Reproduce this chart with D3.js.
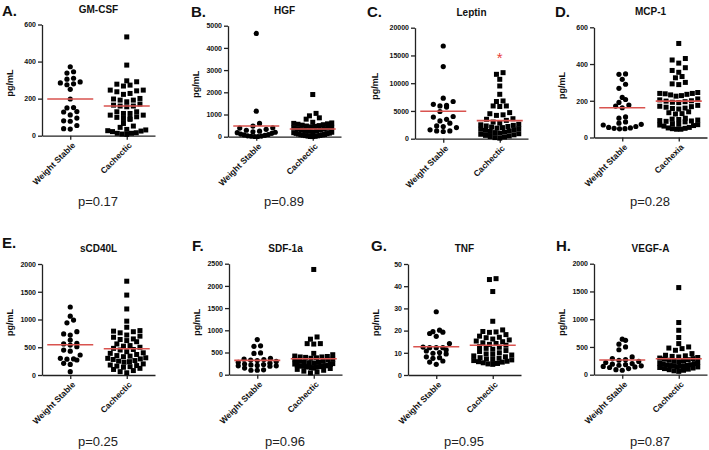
<!DOCTYPE html>
<html>
<head>
<meta charset="utf-8">
<script src="https://cdn.jsdelivr.net/npm/d3@7"></script>
<style>
  body { margin: 0; background: #fff; }
  svg { font-family: "Liberation Sans", Arial, Helvetica, sans-serif; }
</style>
</head>
<body>
<svg width="709" height="450"></svg>
<script>
// Panel text
var letters = ['A.', 'B.', 'C.', 'D.', 'E.', 'F.', 'G.', 'H.'];
var titles = ['GM-CSF', 'HGF', 'Leptin', 'MCP-1', 'sCD40L', 'SDF-1a', 'TNF', 'VEGF-A'];
var groupNames = [
  ['Weight Stable', 'Cachectic'], ['Weight Stable', 'Cachectic'],
  ['Weight Stable', 'Cachectic'], ['Weight Stable', 'Cachexia'],
  ['Weight Stable', 'Cachectic'], ['Weight Stable', 'Cachectic'],
  ['Weight Stable', 'Cachectic'], ['Weight Stable', 'Cachectic']
];
var pValues = ['p=0.17', 'p=0.89', '', 'p=0.28', 'p=0.25', 'p=0.96', 'p=0.95', 'p=0.87'];

// Y axis ticks (last tick = axis max)
var yTicks = [
  [0, 200, 400, 600],
  [0, 1000, 2000, 3000, 4000, 5000],
  [0, 5000, 10000, 15000, 20000],
  [0, 200, 400, 600],
  [0, 500, 1000, 1500, 2000],
  [0, 500, 1000, 1500, 2000, 2500],
  [0, 10, 20, 30, 40, 50],
  [0, 500, 1000, 1500, 2000]
];

// Values (pg/mL)
var gmcsfStable = [372, 345, 338, 310, 305, 290, 285, 280, 275, 250, 198, 152, 150, 130, 128, 112, 95, 80, 78, 55, 38, 36];
var gmcsfCachectic = [533, 381, 296, 291, 278, 273, 268, 246, 246, 242, 237, 228, 223, 201, 198, 192, 192, 183, 171, 165, 160, 160, 156,
  129, 129, 120, 120, 111, 111, 102, 99, 93, 93, 88, 66, 52, 45, 34, 31, 27, 25, 22, 16, 13, 13, 9, 7];

var hgfStable = [4650, 1150, 600, 480, 400, 390, 330, 290, 250, 220, 200, 180, 150, 120, 100, 80, 60, 40, 30, 20, 10, 10];
var hgfCachectic = [1900, 1050, 940, 850, 790, 650, 620, 600, 580, 560, 540, 520, 500, 480, 460, 440, 420, 400, 380, 360, 340, 320,
  300, 280, 260, 240, 220, 200, 180, 160, 150, 140, 120, 100, 90, 80, 70, 60, 50, 40, 30, 20, 10, 5];

var leptinStable = [16700, 13000, 7300, 6700, 6200, 6000, 5900, 5700, 4900, 4000, 3900, 3500, 3200, 2800, 2300, 2200, 2000, 1600, 1400, 1400, 1300];
var leptinCachectic = [11900, 11600, 10700, 9500, 8000, 6800, 6700, 5900, 5900, 5800, 4700, 4500, 4300, 4200, 3600, 3500, 3300, 3000,
  2800, 2600, 2500, 2400, 2300, 2200, 2100, 2000, 1900, 1800, 1700, 1600, 1500, 1400, 1300, 1200, 1100, 1000, 900, 800, 700, 600,
  500, 400, 300, 200, 100];

var mcp1Stable = [346, 344, 317, 290, 268, 218, 207, 191, 177, 171, 162, 112, 105, 85, 78, 72, 68, 60, 55, 52, 50, 48, 47];
var mcp1Cachexia = [512, 430, 422, 405, 380, 365, 355, 332, 325, 300, 292, 288, 245, 240, 240, 238, 235, 232, 228, 225, 210, 205, 200,
  198, 195, 192, 190, 175, 170, 168, 165, 160, 158, 155, 140, 135, 130, 128, 105, 100, 98, 95, 92, 90, 88, 85, 75, 72, 70, 68, 65, 62,
  55, 52, 50, 48, 45, 45];

var scd40lStable = [1225, 1060, 990, 940, 780, 740, 720, 630, 570, 560, 540, 510, 450, 430, 360, 300, 290, 285, 270, 210, 190, 60];
var scd40lCachectic = [1690, 1440, 1190, 970, 860, 800, 790, 780, 760, 720, 700, 680, 650, 640, 620, 600, 560, 530, 520, 500, 480, 460,
  450, 420, 400, 390, 370, 350, 340, 330, 310, 300, 290, 280, 260, 250, 240, 230, 200, 180, 170, 160, 150, 140, 120, 100, 80, 60, 40];

var sdf1Stable = [790, 650, 640, 490, 480, 370, 350, 340, 330, 320, 300, 280, 260, 240, 230, 220, 210, 200, 200, 190, 150, 110, 100, 100];
var sdf1Cachectic = [2370, 850, 800, 700, 700, 690, 480, 450, 420, 410, 400, 400, 390, 380, 370, 350, 340, 330, 310, 300, 290, 280, 270,
  260, 250, 240, 230, 220, 210, 200, 200, 195, 190, 190, 185, 180, 180, 175, 170, 160, 150, 140, 120, 100, 80, 60, 40];

var tnfStable = [28.5, 20.2, 19.5, 19.3, 18.7, 17.4, 14.2, 12.6, 12.3, 12.3, 12.3, 11.3, 10.8, 10.1, 9.8, 9.5, 8.2, 7.8, 7.5, 6.3, 5.8, 4.8];
var tnfCachectic = [43.4, 43.0, 37.6, 24.2, 20.3, 19.6, 19.4, 19.2, 18.2, 17.5, 17.0, 16.8, 16.2, 15.8, 15.3, 15.0, 14.5, 14.2, 13.8,
  13.4, 12.8, 12.5, 12.0, 11.6, 11.0, 10.6, 10.0, 9.5, 9.3, 9.0, 8.6, 8.2, 7.8, 7.5, 7.2, 7.0, 6.8, 6.5, 6.2, 6.0, 5.8, 5.5, 5.2, 5.0, 4.8];

var vegfStable = [640, 620, 550, 500, 450, 320, 290, 270, 260, 240, 220, 200, 190, 180, 170, 160, 150, 140, 130, 110, 90, 80];
var vegfCachectic = [1570, 940, 800, 670, 560, 500, 480, 470, 440, 380, 350, 340, 330, 320, 310, 300, 290, 280, 270, 260, 250, 240, 230,
  220, 210, 200, 190, 180, 175, 170, 165, 160, 155, 150, 145, 140, 130, 120, 110, 100, 90, 80, 70, 60];

// Red centre lines [stable, cachectic]
var centerLines = [[198, 160], [480, 345], [4950, 3250], [162, 198], [546, 474], [322, 360], [12.7, 13.4], [265, 288]];

// Significance star on Leptin cachectic group
var starValue = 14700;

var stableSets = [gmcsfStable, hgfStable, leptinStable, mcp1Stable, scd40lStable, sdf1Stable, tnfStable, vegfStable];
var cachecticSets = [gmcsfCachectic, hgfCachectic, leptinCachectic, mcp1Cachexia, scd40lCachectic, sdf1Cachectic, tnfCachectic, vegfCachectic];

// Layout of each panel (pixel positions of axes and text)
var layout = [
  { x0: 42,  yt: 24.5,  yb: 135.7, lx: 2,   ly: 16,  py: 206 },
  { x0: 228, yt: 25.7,  yb: 136.7, lx: 191, ly: 17,  py: 206 },
  { x0: 415, yt: 27.7,  yb: 138.7, lx: 367, ly: 17,  py: 206 },
  { x0: 594, yt: 27.3,  yb: 137.5, lx: 555, ly: 17,  py: 206 },
  { x0: 42,  yt: 264,   yb: 375,   lx: 2,   ly: 248, py: 446 },
  { x0: 229, yt: 263.7, yb: 374.7, lx: 192, ly: 251, py: 446 },
  { x0: 408, yt: 264,   yb: 375,   lx: 371, ly: 251, py: 446 },
  { x0: 594, yt: 263.7, yb: 374.7, lx: 556, ly: 251, py: 446 }
];
var axisWidth = 113;

var svg = d3.select('svg');

// Prism-like row layout: points close in y share a row and spread sideways,
// lowest values sit in the middle of the row
function rowOffsets(values, y) {
  var pts = values.map(function (v) { return { v: v, py: y(v) }; })
    .sort(function (a, b) { return a.v - b.v; });
  var rows = [], cur = null;
  pts.forEach(function (p) {
    if (cur && Math.abs(p.py - cur.start) < 4.6) {
      cur.pts.push(p);
    } else {
      cur = { start: p.py, pts: [p] };
      rows.push(cur);
    }
  });
  rows.forEach(function (r) {
    var n = r.pts.length;
    var s = n > 1 ? Math.min(6.6, 38 / (n - 1)) : 0;
    var slots = d3.range(n).map(function (i) { return (i - (n - 1) / 2) * s; })
      .sort(function (a, b) { return Math.abs(a) - Math.abs(b) || a - b; });
    r.pts.forEach(function (p, i) { p.dx = slots[i]; });
  });
  return pts;
}

function drawPanel(i) {
  var L = layout[i];
  var g = svg.append('g');
  var yMax = yTicks[i][yTicks[i].length - 1];

  var y = d3.scaleLinear().domain([0, yMax]).range([L.yb, L.yt]);
  var x = d3.scalePoint().domain(groupNames[i]).range([L.x0, L.x0 + axisWidth]).padding(0.5);

  // y axis
  var ya = g.append('g')
    .attr('transform', 'translate(' + L.x0 + ',0)')
    .call(d3.axisLeft(y).tickValues(yTicks[i]).tickSize(4).tickSizeOuter(0).tickPadding(2).tickFormat(d3.format('d')));
  ya.selectAll('text').attr('font-size', 7).attr('font-weight', 'bold').attr('fill', '#111');

  // x axis
  var xa = g.append('g')
    .attr('transform', 'translate(0,' + L.yb + ')')
    .call(d3.axisBottom(x).tickSize(4).tickSizeOuter(0));
  xa.selectAll('text')
    .attr('font-size', 8.5).attr('font-weight', 'bold').attr('fill', '#111')
    .attr('text-anchor', 'end')
    .attr('dy', null).attr('y', null)
    .attr('transform', 'translate(3,8) rotate(-45)')
    .attr('dominant-baseline', 'central');

  g.selectAll('.domain, .tick line').attr('stroke', '#222').attr('stroke-width', 1.3);

  // axis label
  g.append('text')
    .attr('transform', 'translate(' + (L.x0 - (i === 2 ? 37 : 29)) + ',' + ((L.yt + L.yb) / 2 + 3) + ') rotate(-90)')
    .attr('text-anchor', 'middle')
    .attr('font-size', 9).attr('font-weight', 'bold').attr('fill', '#111')
    .text('pg/mL');

  // letter and title
  g.append('text').attr('x', L.lx).attr('y', L.ly)
    .attr('font-size', 15).attr('font-weight', 'bold').attr('fill', '#111')
    .text(letters[i]);
  g.append('text').attr('x', L.x0 + axisWidth / 2).attr('y', L.yt - 12)
    .attr('text-anchor', 'middle')
    .attr('font-size', 10).attr('font-weight', 'bold').attr('fill', '#111')
    .text(titles[i]);

  // stable: circles
  var cx0 = x(groupNames[i][0]);
  g.selectAll('circle.pt').data(rowOffsets(stableSets[i], y)).enter()
    .append('circle').attr('class', 'pt')
    .attr('cx', function (d) { return cx0 + d.dx; })
    .attr('cy', function (d) { return d.py; })
    .attr('r', 2.6).attr('fill', '#000');

  // cachectic: squares
  var cx1 = x(groupNames[i][1]);
  g.selectAll('rect.pt').data(rowOffsets(cachecticSets[i], y)).enter()
    .append('rect').attr('class', 'pt')
    .attr('x', function (d) { return cx1 + d.dx - 2.5; })
    .attr('y', function (d) { return d.py - 2.5; })
    .attr('width', 5).attr('height', 5).attr('fill', '#000');

  // centre lines
  g.selectAll('line.mean').data(centerLines[i]).enter()
    .append('line').attr('class', 'mean')
    .attr('x1', function (d, k) { return x(groupNames[i][k]) - 23; })
    .attr('x2', function (d, k) { return x(groupNames[i][k]) + 23; })
    .attr('y1', function (d) { return y(d); })
    .attr('y2', function (d) { return y(d); })
    .attr('stroke', '#d9534f').attr('stroke-width', 1.6);

  if (i === 2) {
    g.append('text').attr('x', cx1).attr('y', y(starValue) + 6)
      .attr('text-anchor', 'middle')
      .attr('font-size', 15).attr('fill', '#e8403a')
      .text('*');
  }

  if (pValues[i]) {
    g.append('text').attr('x', L.x0 + 56).attr('y', L.py)
      .attr('text-anchor', 'middle')
      .attr('font-size', 13).attr('fill', '#222')
      .text(pValues[i]);
  }
}

d3.range(8).forEach(drawPanel);
</script>
</body>
</html>
